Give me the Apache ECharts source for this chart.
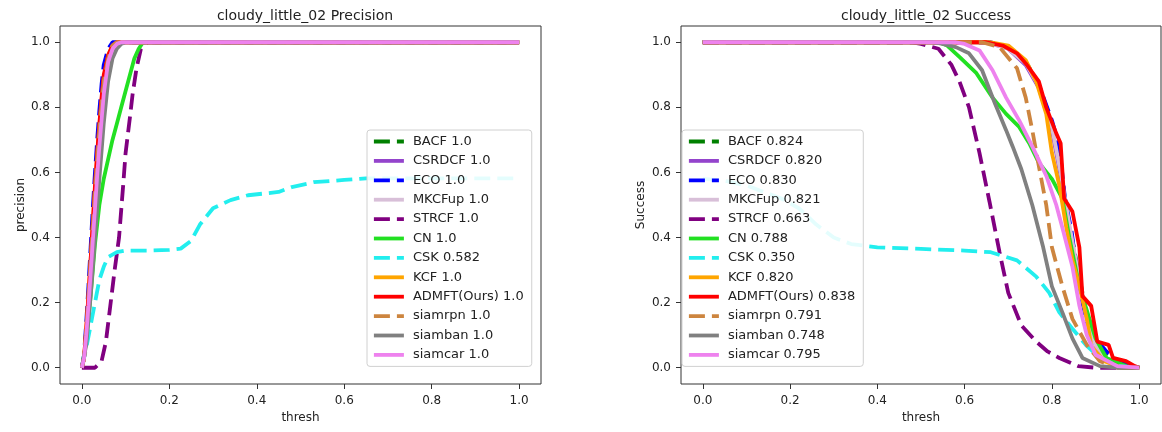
<!DOCTYPE html>
<html>
<head>
<meta charset="utf-8">
<script src="https://cdn.jsdelivr.net/npm/echarts@6.0.0/dist/echarts.min.js"></script>
<style>
  html, body { margin: 0; padding: 0; background: #fff; }
  #main { width: 1162px; height: 432px; }
</style>
</head>
<body>
<div id="main"></div>
<script>
// tracker names, in plotting order
const trackers = ['BACF', 'CSRDCF', 'ECO', 'MKCFup', 'STRCF', 'CN', 'CSK', 'KCF', 'ADMFT(Ours)', 'siamrpn', 'siamban', 'siamcar'];
const precScores = ['1.0', '1.0', '1.0', '1.0', '1.0', '1.0', '0.582', '1.0', '1.0', '1.0', '1.0', '1.0'];
const succScores = ['0.824', '0.820', '0.830', '0.821', '0.663', '0.788', '0.350', '0.820', '0.838', '0.791', '0.748', '0.795'];
const tickValues = [0, 0.2, 0.4, 0.6, 0.8, 1.0];

// precision curves [thresh, precision]
const precBACF = [[0, 0], [0.005, 0.03], [0.01, 0.11], [0.015, 0.2], [0.02, 0.3], [0.025, 0.41], [0.03, 0.52], [0.035, 0.62], [0.04, 0.71], [0.045, 0.79], [0.05, 0.86], [0.06, 0.95], [0.07, 0.99], [0.08, 1], [1, 1]];
const precCSRDCF = [[0, 0], [0.005, 0.03], [0.01, 0.1], [0.015, 0.19], [0.02, 0.29], [0.025, 0.4], [0.03, 0.5], [0.035, 0.6], [0.04, 0.69], [0.045, 0.77], [0.05, 0.85], [0.06, 0.94], [0.07, 0.98], [0.085, 1], [1, 1]];
const precECO = [[0, 0], [0.005, 0.04], [0.01, 0.14], [0.015, 0.25], [0.02, 0.37], [0.025, 0.49], [0.03, 0.6], [0.035, 0.7], [0.04, 0.79], [0.045, 0.87], [0.05, 0.93], [0.06, 0.98], [0.07, 1], [1, 1]];
const precMKCFup = [[0, 0], [0.005, 0.03], [0.01, 0.1], [0.015, 0.19], [0.02, 0.29], [0.025, 0.39], [0.03, 0.5], [0.035, 0.6], [0.04, 0.69], [0.045, 0.77], [0.05, 0.85], [0.06, 0.94], [0.07, 0.98], [0.085, 1], [1, 1]];
const precSTRCF = [[0, 0], [0.03, 0], [0.045, 0.02], [0.055, 0.08], [0.065, 0.19], [0.075, 0.3], [0.085, 0.4], [0.095, 0.57], [0.1, 0.66], [0.11, 0.77], [0.116, 0.84], [0.125, 0.92], [0.135, 0.98], [0.15, 1], [1, 1]];
const precCN = [[0, 0], [0.01, 0.08], [0.02, 0.22], [0.03, 0.38], [0.04, 0.5], [0.05, 0.58], [0.06, 0.64], [0.07, 0.7], [0.08, 0.75], [0.09, 0.8], [0.1, 0.85], [0.11, 0.9], [0.12, 0.95], [0.13, 0.98], [0.14, 1], [1, 1]];
const precCSK = [[0, 0], [0.01, 0.06], [0.02, 0.13], [0.03, 0.2], [0.04, 0.27], [0.05, 0.31], [0.06, 0.34], [0.08, 0.355], [0.1, 0.36], [0.15, 0.36], [0.2, 0.362], [0.226, 0.366], [0.25, 0.39], [0.27, 0.44], [0.3, 0.49], [0.34, 0.515], [0.38, 0.53], [0.45, 0.54], [0.48, 0.555], [0.53, 0.57], [0.6, 0.577], [0.65, 0.582], [1, 0.582]];
const precKCF = [[0, 0], [0.005, 0.03], [0.01, 0.12], [0.015, 0.22], [0.02, 0.33], [0.025, 0.44], [0.03, 0.55], [0.035, 0.65], [0.04, 0.74], [0.045, 0.82], [0.05, 0.89], [0.06, 0.96], [0.07, 0.99], [0.08, 1], [1, 1]];
const precADMFT = [[0, 0], [0.005, 0.03], [0.01, 0.12], [0.015, 0.22], [0.02, 0.33], [0.025, 0.45], [0.03, 0.56], [0.035, 0.66], [0.04, 0.75], [0.045, 0.83], [0.05, 0.9], [0.06, 0.96], [0.07, 0.99], [0.08, 1], [1, 1]];
const precSiamrpn = [[0, 0], [0.005, 0.03], [0.01, 0.11], [0.015, 0.21], [0.02, 0.32], [0.025, 0.43], [0.03, 0.54], [0.035, 0.64], [0.04, 0.73], [0.045, 0.81], [0.05, 0.88], [0.06, 0.95], [0.07, 0.99], [0.08, 1], [1, 1]];
const precSiamban = [[0, 0], [0.01, 0.07], [0.02, 0.22], [0.03, 0.4], [0.04, 0.58], [0.05, 0.75], [0.06, 0.88], [0.07, 0.95], [0.08, 0.98], [0.09, 0.995], [0.1, 1], [1, 1]];
const precSiamcar = [[0, 0], [0.005, 0.03], [0.01, 0.1], [0.015, 0.19], [0.02, 0.29], [0.025, 0.39], [0.03, 0.49], [0.035, 0.59], [0.04, 0.68], [0.045, 0.76], [0.05, 0.84], [0.06, 0.94], [0.07, 0.98], [0.08, 0.995], [0.09, 1], [1, 1]];

// success curves [thresh, success]
const succBACF = [[0, 1], [0.65, 1], [0.7, 0.985], [0.74, 0.94], [0.77, 0.87], [0.8, 0.74], [0.82, 0.6], [0.84, 0.44], [0.86, 0.3], [0.88, 0.16], [0.9, 0.08], [0.93, 0.03], [0.96, 0.005], [1, 0]];
const succCSRDCF = [[0, 1], [0.65, 1], [0.7, 0.98], [0.74, 0.93], [0.77, 0.86], [0.8, 0.73], [0.82, 0.59], [0.84, 0.43], [0.86, 0.29], [0.88, 0.15], [0.9, 0.07], [0.93, 0.02], [0.96, 0], [1, 0]];
const succECO = [[0, 1], [0.66, 1], [0.7, 0.985], [0.74, 0.94], [0.77, 0.87], [0.8, 0.76], [0.817, 0.68], [0.83, 0.52], [0.845, 0.42], [0.856, 0.31], [0.87, 0.2], [0.88, 0.14], [0.9, 0.09], [0.925, 0.05], [0.95, 0.02], [0.98, 0.005], [1, 0]];
const succMKCFup = [[0, 1], [0.65, 1], [0.7, 0.98], [0.74, 0.935], [0.77, 0.865], [0.8, 0.74], [0.82, 0.6], [0.84, 0.44], [0.86, 0.29], [0.88, 0.15], [0.9, 0.07], [0.93, 0.02], [0.96, 0], [1, 0]];
const succSTRCF = [[0, 1], [0.48, 1], [0.5, 0.995], [0.54, 0.98], [0.57, 0.93], [0.588, 0.88], [0.61, 0.8], [0.634, 0.66], [0.657, 0.51], [0.68, 0.355], [0.7, 0.23], [0.73, 0.13], [0.764, 0.08], [0.79, 0.05], [0.817, 0.03], [0.86, 0.005], [0.9, 0], [1, 0]];
const succCN = [[0, 1], [0.54, 1], [0.56, 0.99], [0.588, 0.955], [0.627, 0.905], [0.664, 0.83], [0.695, 0.78], [0.725, 0.74], [0.748, 0.69], [0.77, 0.63], [0.8, 0.58], [0.824, 0.52], [0.84, 0.4], [0.863, 0.25], [0.886, 0.15], [0.9, 0.09], [0.925, 0.03], [0.97, 0.005], [1, 0]];
const succCSK = [[0, 0.58], [0.05, 0.575], [0.1, 0.56], [0.14, 0.54], [0.18, 0.52], [0.22, 0.49], [0.26, 0.44], [0.3, 0.4], [0.34, 0.38], [0.4, 0.37], [0.5, 0.365], [0.6, 0.36], [0.66, 0.355], [0.72, 0.33], [0.764, 0.28], [0.794, 0.23], [0.817, 0.17], [0.847, 0.12], [0.88, 0.067], [0.91, 0.03], [0.95, 0.005], [1, 0]];
const succKCF = [[0, 1], [0.66, 1], [0.7, 0.99], [0.74, 0.945], [0.764, 0.88], [0.787, 0.78], [0.8, 0.66], [0.817, 0.56], [0.833, 0.43], [0.847, 0.33], [0.863, 0.25], [0.88, 0.15], [0.89, 0.067], [0.92, 0.02], [0.96, 0], [1, 0]];
const succADMFT = [[0, 1], [0.65, 1], [0.687, 0.99], [0.72, 0.966], [0.74, 0.935], [0.77, 0.88], [0.787, 0.8], [0.81, 0.72], [0.82, 0.69], [0.828, 0.52], [0.847, 0.48], [0.863, 0.37], [0.87, 0.22], [0.89, 0.19], [0.904, 0.08], [0.93, 0.07], [0.94, 0.03], [0.97, 0.02], [0.99, 0.005], [1, 0]];
const succSiamrpn = [[0, 1], [0.64, 1], [0.68, 0.985], [0.72, 0.92], [0.74, 0.83], [0.755, 0.73], [0.77, 0.62], [0.787, 0.5], [0.8, 0.37], [0.824, 0.25], [0.847, 0.15], [0.88, 0.07], [0.91, 0.02], [0.95, 0], [1, 0]];
const succSiamban = [[0, 1], [0.53, 1], [0.55, 0.995], [0.58, 0.985], [0.61, 0.966], [0.64, 0.914], [0.67, 0.81], [0.695, 0.73], [0.71, 0.68], [0.73, 0.61], [0.755, 0.5], [0.78, 0.37], [0.8, 0.25], [0.824, 0.17], [0.847, 0.09], [0.87, 0.03], [0.91, 0.005], [0.95, 0], [1, 0]];
const succSiamcar = [[0, 1], [0.58, 1], [0.6, 0.995], [0.634, 0.975], [0.664, 0.914], [0.695, 0.83], [0.725, 0.76], [0.755, 0.68], [0.787, 0.59], [0.81, 0.5], [0.824, 0.43], [0.847, 0.31], [0.863, 0.19], [0.88, 0.1], [0.9, 0.04], [0.95, 0.005], [1, 0]];

const precCurves = [precBACF, precCSRDCF, precECO, precMKCFup, precSTRCF, precCN, precCSK, precKCF, precADMFT, precSiamrpn, precSiamban, precSiamcar];
const succCurves = [succBACF, succCSRDCF, succECO, succMKCFup, succSTRCF, succCN, succCSK, succKCF, succADMFT, succSiamrpn, succSiamban, succSiamcar];

const colors = ['#008000', '#9444cc', '#0000ff', '#d8bfd8', '#800080', '#22e022', '#22eeee', '#ffa500', '#ff0000', '#cd853f', '#808080', '#ee82ee'];
const dashed = [true, false, true, false, true, false, true, false, false, true, false, false];

const chart = echarts.init(document.getElementById('main'), null, { renderer: 'canvas' });
const font = 'DejaVu Sans';

function xAxis(idx) {
  return {
    type: 'value', gridIndex: idx, min: -0.05, max: 1.05,
    name: 'thresh', nameLocation: 'middle', nameGap: 24,
    nameTextStyle: { fontFamily: font, fontSize: 12, color: '#222' },
    axisLine: { show: false, onZero: false },
    axisTick: { show: true, length: 5, customValues: tickValues, lineStyle: { color: '#333' } },
    axisLabel: { customValues: tickValues, margin: 11, fontFamily: font, fontSize: 12, color: '#222', formatter: v => v.toFixed(1) },
    splitLine: { show: false }
  };
}
function yAxis(idx, name, gap) {
  return {
    type: 'value', gridIndex: idx, min: -0.05, max: 1.05,
    name: name, nameLocation: 'middle', nameGap: gap, nameRotate: 90,
    nameTextStyle: { fontFamily: font, fontSize: 12, color: '#222' },
    axisLine: { show: false, onZero: false },
    axisTick: { show: true, length: 5, customValues: tickValues, lineStyle: { color: '#333' } },
    axisLabel: { customValues: tickValues, margin: 10, fontFamily: font, fontSize: 12, color: '#222', formatter: v => v.toFixed(1) },
    splitLine: { show: false }
  };
}
function legend(left, names) {
  return {
    orient: 'vertical', left: left, top: 130, data: names,
    itemWidth: 30, itemHeight: 14, itemGap: 6.4,
    padding: [5, 8, 5, 5],
    backgroundColor: 'rgba(255,255,255,0.88)', borderColor: '#d0d0d0', borderWidth: 1, borderRadius: 3,
    lineStyle: { width: 3.8 },
    itemStyle: { opacity: 0 },
    textStyle: { fontFamily: font, fontSize: 13, color: '#222', padding: [0, 0, 0, 4] },
    selectedMode: false
  };
}

const series = [];
const precNames = [];
const succNames = [];
trackers.forEach((t, i) => {
  const lineStyle = { width: 3.8, color: colors[i], type: dashed[i] ? [16, 7] : 'solid' };
  const pn = t + ' ' + precScores[i];
  const sn = t + ' ' + succScores[i];
  precNames.push(pn);
  succNames.push(sn);
  series.push({ name: pn, type: 'line', xAxisIndex: 0, yAxisIndex: 0, data: precCurves[i], symbol: 'none', color: colors[i], lineStyle: lineStyle, z: 2 + i * 0.01 });
  series.push({ name: sn, type: 'line', xAxisIndex: 1, yAxisIndex: 1, data: succCurves[i], symbol: 'none', color: colors[i], lineStyle: lineStyle, z: 2 + i * 0.01 });
});

chart.setOption({
  animation: false,
  backgroundColor: '#fff',
  title: [
    { text: 'cloudy_little_02 Precision', left: 300, top: 4, textAlign: 'center', textStyle: { fontFamily: font, fontSize: 14, fontWeight: 'normal', color: '#222' } },
    { text: 'cloudy_little_02 Success', left: 921, top: 4, textAlign: 'center', textStyle: { fontFamily: font, fontSize: 14, fontWeight: 'normal', color: '#222' } }
  ],
  grid: [
    { left: 60, top: 26, width: 481, height: 358, show: true, borderColor: '#333', borderWidth: 1, backgroundColor: 'transparent' },
    { left: 681, top: 26, width: 480, height: 358, show: true, borderColor: '#333', borderWidth: 1, backgroundColor: 'transparent' }
  ],
  xAxis: [xAxis(0), xAxis(1)],
  yAxis: [yAxis(0, 'precision', 33), yAxis(1, 'Success', 34)],
  legend: [legend(367, precNames), legend(682, succNames)],
  series: series
});
</script>
</body>
</html>
